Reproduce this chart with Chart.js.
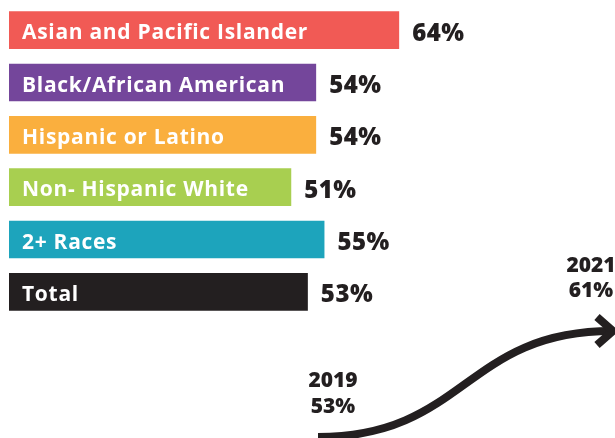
<!DOCTYPE html>
<html>
<head>
<meta charset="utf-8">
<script src="https://cdn.jsdelivr.net/npm/chart.js@4/dist/chart.umd.min.js"></script>
<style>
  html, body { margin: 0; padding: 0; background: #ffffff; }
  #wrap { position: relative; width: 615px; height: 438px; overflow: hidden; }
  canvas { position: absolute; left: 0; top: 0; }
</style>
</head>
<body>
<div id="wrap">
  <canvas id="bars" width="615" height="438"></canvas>
  <canvas id="trend" width="615" height="438"></canvas>
</div>
<script>
// ---- data ----
const categories = ['Asian and Pacific Islander', 'Black/African American', 'Hispanic or Latino', 'Non- Hispanic White', '2+ Races', 'Total'];
const rates = [64, 54, 54, 51, 55, 53];
const barColors = ['#F15A55', '#74469B', '#FAAF3E', '#A8CF50', '#1DA4BC', '#231F20'];
const trendYears = [2019, 2021];
const trendRates = [53, 61];

const FONT = '"Open Sans", "Liberation Sans", sans-serif';
const DARK = '#231F20';

const barLabelPlugin = {
  id: 'barLabels',
  afterDatasetsDraw(chart) {
    const ctx = chart.ctx;
    const meta = chart.getDatasetMeta(0);
    const left = chart.chartArea.left;
    ctx.save();
    meta.data.forEach((bar, i) => {
      ctx.textAlign = 'left';
      ctx.textBaseline = 'alphabetic';
      ctx.fillStyle = '#ffffff';
      ctx.font = '700 21px ' + FONT;
      ctx.letterSpacing = '0.7px';
      ctx.fillText(chart.data.labels[i], left + 13, bar.y + 9);
      ctx.fillStyle = DARK;
      ctx.font = '800 24px ' + FONT;
      ctx.letterSpacing = '0.5px';
      ctx.fillText(rates[i] + '%', bar.x + 13, bar.y + 10.5);
    });
    ctx.restore();
  }
};

new Chart(document.getElementById('bars'), {
  type: 'bar',
  data: {
    labels: categories,
    datasets: [{
      data: rates,
      backgroundColor: barColors,
      borderWidth: 0,
      base: 17,
      barPercentage: 0.72,
      categoryPercentage: 1
    }]
  },
  options: {
    indexAxis: 'y',
    responsive: false,
    animation: false,
    layout: { padding: { left: 9, right: 0, top: 4, bottom: 120 } },
    scales: {
      x: { display: false, min: 17, max: 90 },
      y: { display: false }
    },
    plugins: { legend: { display: false }, tooltip: { enabled: false } }
  },
  plugins: [barLabelPlugin]
});

const trendPlugin = {
  id: 'trendArrow',
  afterDatasetsDraw(chart) {
    const ctx = chart.ctx;
    const pts = chart.getDatasetMeta(0).data;
    const p0 = pts[0], p1 = pts[1];
    const dx = p1.x - p0.x;
    ctx.save();
    ctx.strokeStyle = DARK;
    ctx.lineWidth = 8;
    ctx.lineCap = 'butt';
    ctx.lineJoin = 'miter';
    ctx.beginPath();
    ctx.moveTo(p0.x, p0.y);
    ctx.bezierCurveTo(p0.x + dx * 0.5, p0.y, p1.x - dx * 0.5, p1.y, p1.x, p1.y);
    ctx.stroke();
    // arrow head
    ctx.beginPath();
    ctx.moveTo(p1.x - 15, p1.y - 14);
    ctx.lineTo(p1.x + 1, p1.y);
    ctx.lineTo(p1.x - 15, p1.y + 14);
    ctx.stroke();
    // labels
    ctx.fillStyle = DARK;
    ctx.font = '800 21px ' + FONT;
    ctx.textAlign = 'center';
    ctx.textBaseline = 'alphabetic';
    ctx.fillText(String(trendYears[0]), p0.x + 15, p0.y - 50);
    ctx.fillText(trendRates[0] + '%', p0.x + 15, p0.y - 24);
    ctx.fillText(String(trendYears[1]), p1.x - 21, p1.y - 59);
    ctx.fillText(trendRates[1] + '%', p1.x - 21, p1.y - 34);
    ctx.restore();
  }
};

new Chart(document.getElementById('trend'), {
  type: 'line',
  data: {
    datasets: [{
      data: trendYears.map((y, i) => ({ x: y, y: trendRates[i] })),
      showLine: false,
      pointRadius: 0,
      borderWidth: 0
    }]
  },
  options: {
    responsive: false,
    animation: false,
    layout: { padding: { left: 318, right: 3, top: 331, bottom: 1 } },
    scales: {
      x: { type: 'linear', display: false, min: 2019, max: 2021 },
      y: { type: 'linear', display: false, min: 53, max: 61 }
    },
    plugins: { legend: { display: false }, tooltip: { enabled: false } }
  },
  plugins: [trendPlugin]
});
</script>
</body>
</html>
